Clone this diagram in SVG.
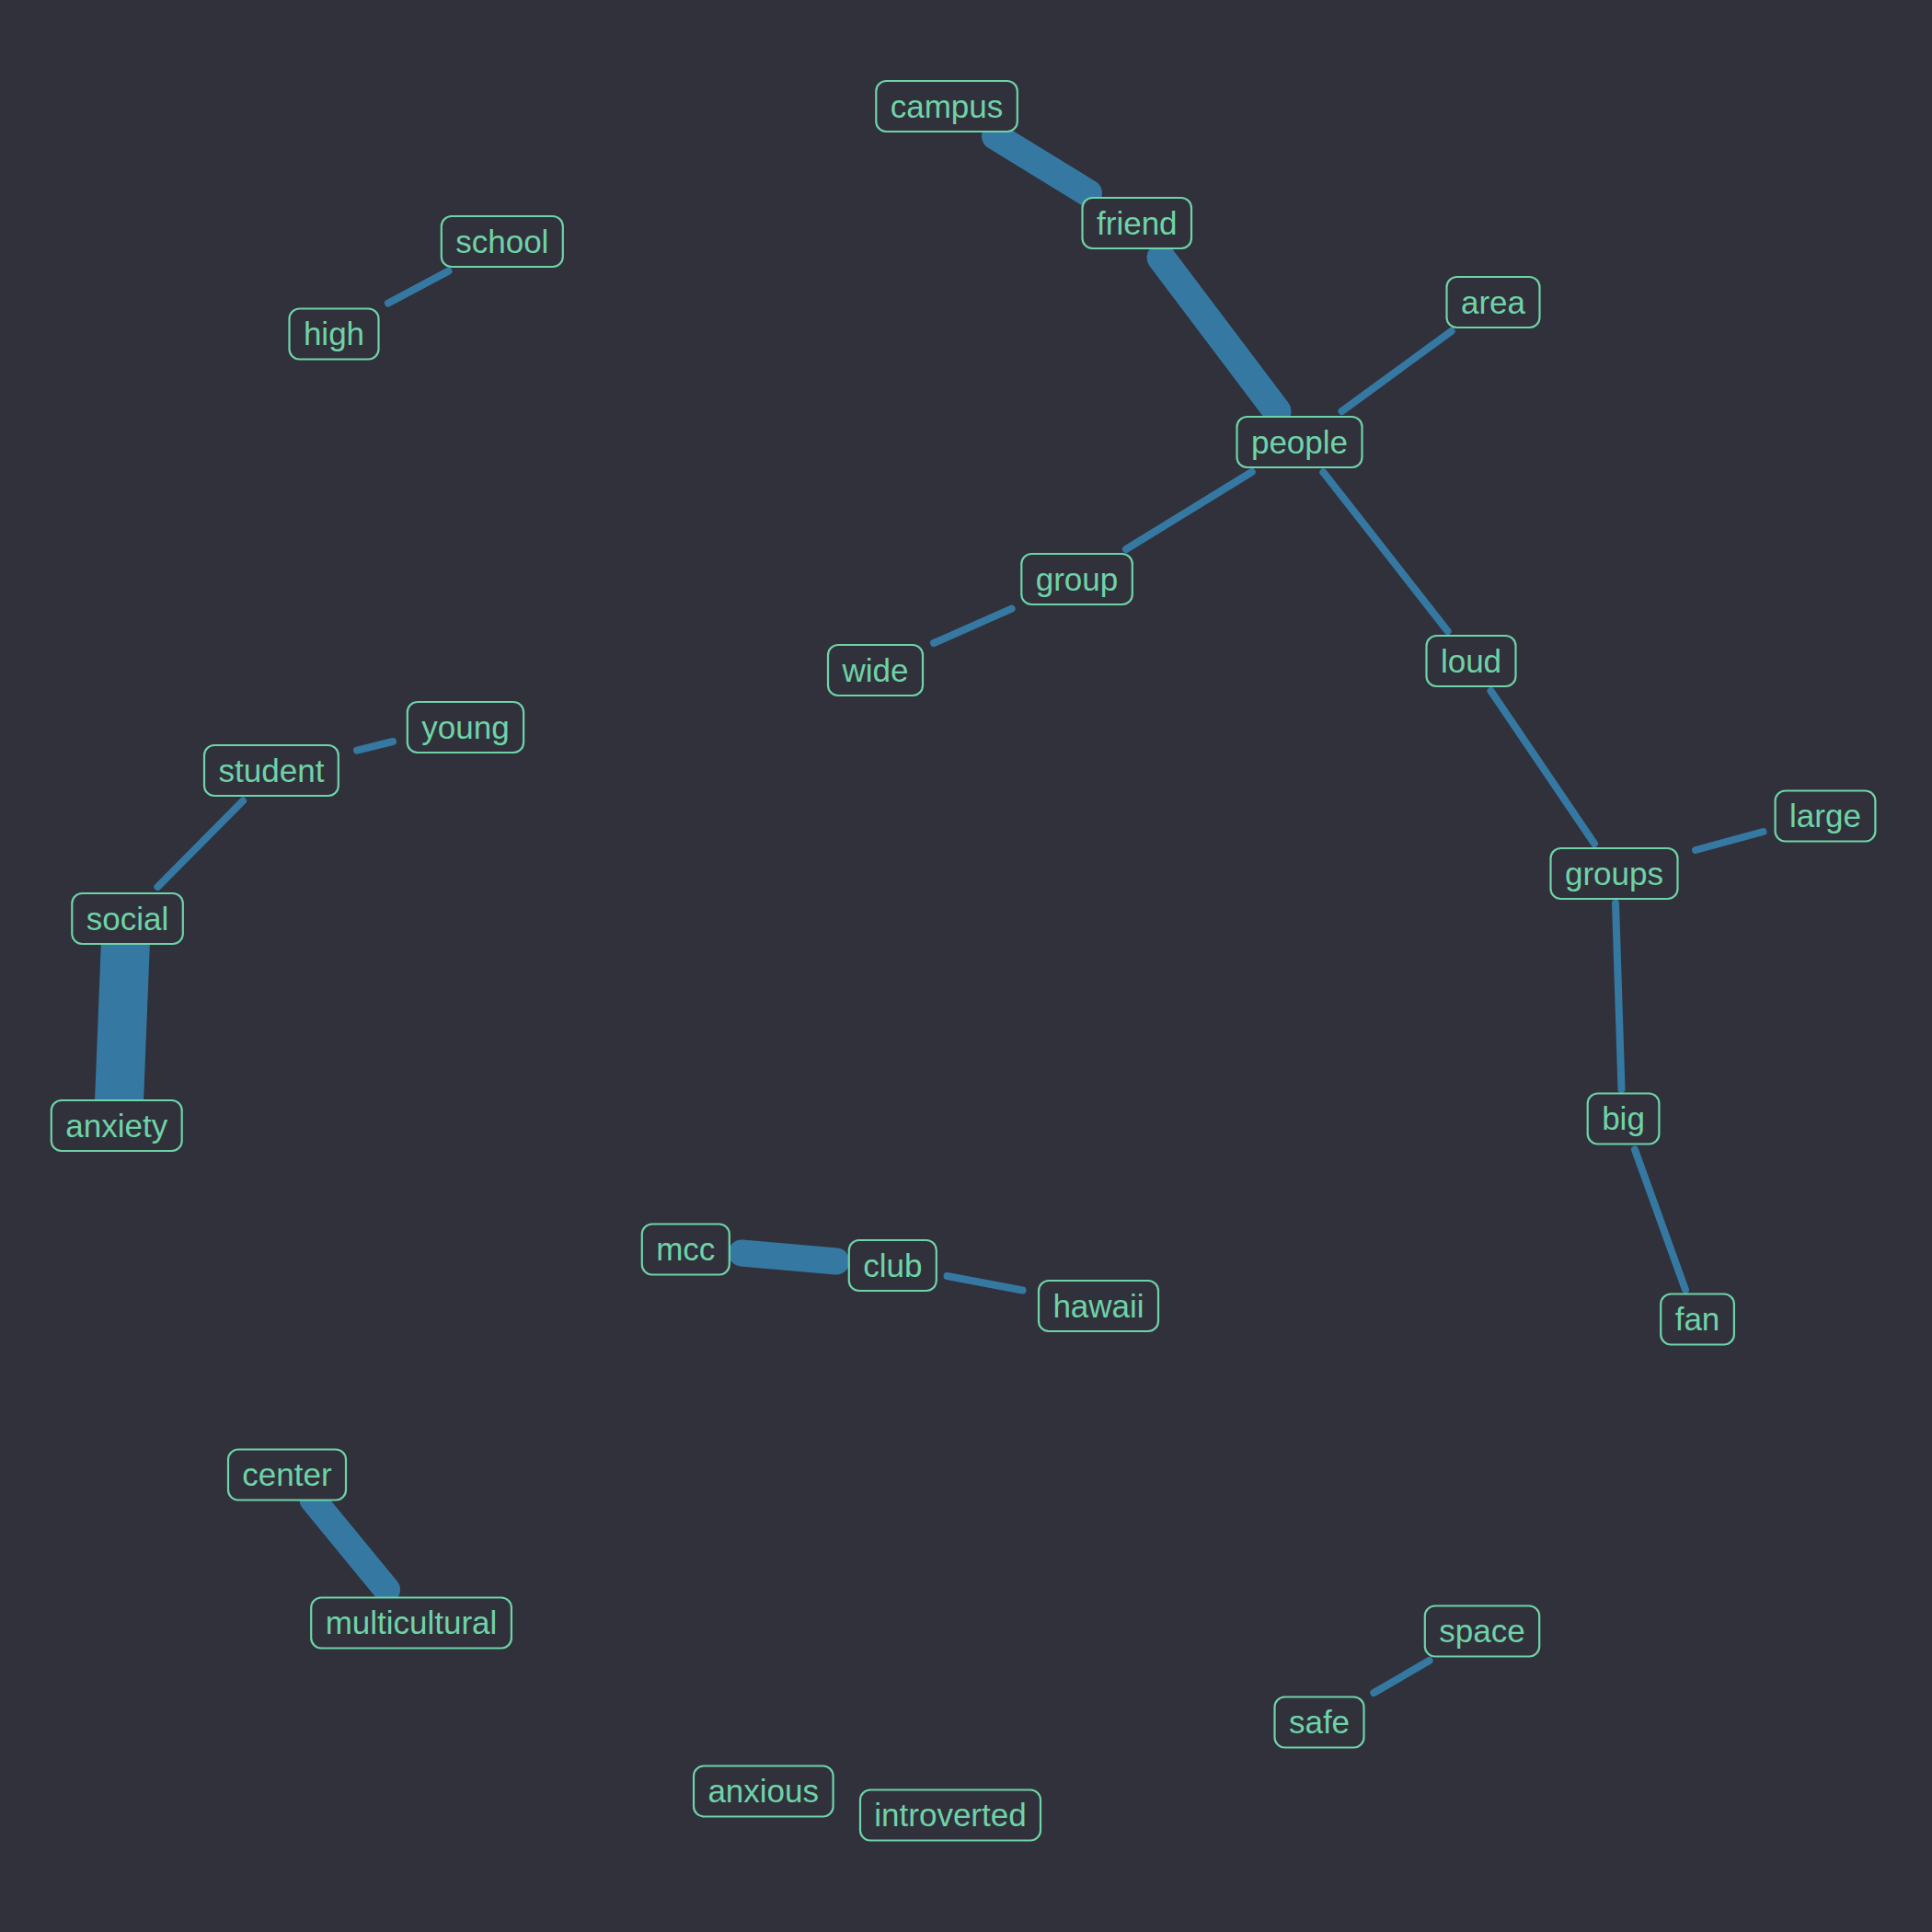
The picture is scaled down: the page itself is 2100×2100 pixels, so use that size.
<svg xmlns="http://www.w3.org/2000/svg" width="2100" height="2100" viewBox="0 0 2100 2100">
<style>
.e{stroke:#3579a3;stroke-linecap:round;fill:none}
.t{stroke-width:8}
.n rect{fill:#30313b;stroke:#6fd3a8;stroke-width:2.2}
.n text{fill:#6fd3a8;font-family:"Liberation Sans",Arial,sans-serif;font-size:35px;text-anchor:middle}
</style>
<rect width="2100" height="2100" fill="#30313b"/>
<g id="edges">
<line class="e" x1="1082" y1="148" x2="1183" y2="210" stroke-width="30"/>
<line class="e" x1="1262" y1="280" x2="1388" y2="447" stroke-width="31"/>
<line class="e t" x1="1458.5" y1="447" x2="1577.6" y2="360"/>
<line class="e t" x1="1360.7" y1="513" x2="1224" y2="597"/>
<line class="e t" x1="1099.6" y1="661.6" x2="1015" y2="699"/>
<line class="e t" x1="1438.3" y1="513.3" x2="1573.5" y2="686"/>
<line class="e t" x1="1620.5" y1="751" x2="1733" y2="917"/>
<line class="e t" x1="1843" y1="924" x2="1916.5" y2="904"/>
<line class="e t" x1="1756" y1="981.7" x2="1762.5" y2="1184"/>
<line class="e t" x1="1777" y1="1249.6" x2="1832" y2="1402"/>
<line class="e t" x1="487.5" y1="294.6" x2="422" y2="329.5"/>
<line class="e t" x1="388" y1="815.6" x2="427" y2="806"/>
<line class="e t" x1="264" y1="870.5" x2="171.4" y2="964"/>
<line class="e" x1="137" y1="1010" x2="129" y2="1210" stroke-width="53"/>
<line class="e" x1="806" y1="1362" x2="909" y2="1371" stroke-width="29"/>
<line class="e t" x1="1029.5" y1="1387" x2="1111.5" y2="1402.5"/>
<line class="e" x1="340" y1="1630" x2="420.5" y2="1728" stroke-width="29"/>
<line class="e t" x1="1553.6" y1="1805" x2="1493.3" y2="1840"/>
</g>
<g id="n-campus" class="n"><rect x="952.3" y="88" width="153.5" height="55" rx="11"/><text x="1029" y="127.5">campus</text></g>
<g id="n-friend" class="n"><rect x="1176.5" y="215" width="118.5" height="55" rx="11"/><text x="1235.8" y="254.5">friend</text></g>
<g id="n-people" class="n"><rect x="1344.5" y="453" width="136" height="55" rx="11"/><text x="1412.5" y="492.5">people</text></g>
<g id="n-area" class="n"><rect x="1572.5" y="301" width="101" height="55" rx="11"/><text x="1623" y="340.5">area</text></g>
<g id="n-group" class="n"><rect x="1110.3" y="602" width="120.5" height="55" rx="11"/><text x="1170.5" y="641.5">group</text></g>
<g id="n-wide" class="n"><rect x="900" y="701" width="103" height="55" rx="11"/><text x="951.5" y="740.5">wide</text></g>
<g id="n-loud" class="n"><rect x="1550.5" y="691" width="97" height="55" rx="11"/><text x="1599" y="730.5">loud</text></g>
<g id="n-groups" class="n"><rect x="1685.5" y="922" width="138" height="55" rx="11"/><text x="1754.5" y="961.5">groups</text></g>
<g id="n-large" class="n"><rect x="1929.6" y="859.5" width="108.8" height="55" rx="11"/><text x="1984" y="899">large</text></g>
<g id="n-big" class="n"><rect x="1725.7" y="1188.5" width="77.7" height="55" rx="11"/><text x="1764.5" y="1228">big</text></g>
<g id="n-fan" class="n"><rect x="1805.2" y="1406.5" width="79.7" height="55" rx="11"/><text x="1845" y="1446">fan</text></g>
<g id="n-school" class="n"><rect x="479.8" y="235" width="132" height="55" rx="11"/><text x="545.8" y="274.5">school</text></g>
<g id="n-high" class="n"><rect x="314.5" y="335.5" width="97" height="55" rx="11"/><text x="363" y="375">high</text></g>
<g id="n-young" class="n"><rect x="442.8" y="763" width="126.3" height="55" rx="11"/><text x="506" y="802.5">young</text></g>
<g id="n-student" class="n"><rect x="222" y="810" width="145.8" height="55" rx="11"/><text x="295" y="849.5">student</text></g>
<g id="n-social" class="n"><rect x="78.3" y="971" width="120.5" height="55" rx="11"/><text x="138.5" y="1010.5">social</text></g>
<g id="n-anxiety" class="n"><rect x="55.8" y="1196" width="141.9" height="55" rx="11"/><text x="126.7" y="1235.5">anxiety</text></g>
<g id="n-mcc" class="n"><rect x="697.8" y="1330.5" width="95" height="55" rx="11"/><text x="745.3" y="1370">mcc</text></g>
<g id="n-club" class="n"><rect x="922.8" y="1348" width="95" height="55" rx="11"/><text x="970.3" y="1387.5">club</text></g>
<g id="n-hawaii" class="n"><rect x="1129" y="1392" width="130" height="55" rx="11"/><text x="1194" y="1431.5">hawaii</text></g>
<g id="n-center" class="n"><rect x="248" y="1575.5" width="128" height="55" rx="11"/><text x="312" y="1615">center</text></g>
<g id="n-multicultural" class="n"><rect x="338.2" y="1736.5" width="217.7" height="55" rx="11"/><text x="447" y="1776">multicultural</text></g>
<g id="n-space" class="n"><rect x="1548.8" y="1745.5" width="124.4" height="55" rx="11"/><text x="1611" y="1785">space</text></g>
<g id="n-safe" class="n"><rect x="1385.5" y="1844.5" width="97" height="55" rx="11"/><text x="1434" y="1884">safe</text></g>
<g id="n-anxious" class="n"><rect x="754" y="1919.5" width="151.6" height="55" rx="11"/><text x="829.7" y="1959">anxious</text></g>
<g id="n-introverted" class="n"><rect x="935" y="1945.5" width="196" height="55" rx="11"/><text x="1033" y="1985">introverted</text></g>
</svg>
